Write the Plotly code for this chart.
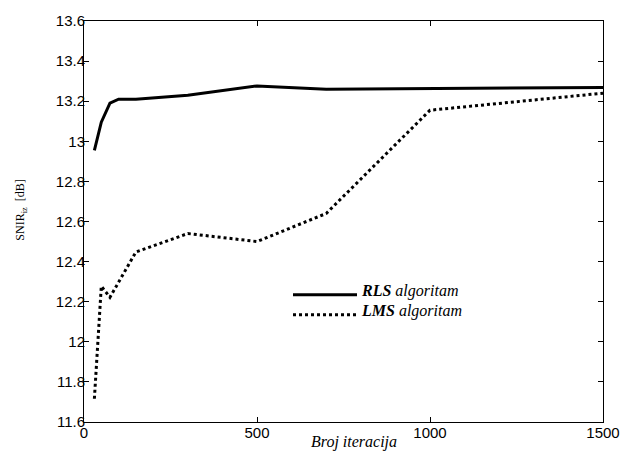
import plotly.graph_objects as go

iters_rls = [30, 50, 75, 100, 150, 300, 500, 700, 1500]
snir_rls = [12.955, 13.095, 13.19, 13.21, 13.21, 13.23, 13.276, 13.26, 13.268]

iters_lms = [30, 50, 75, 150, 300, 500, 700, 1000, 1500]
snir_lms = [11.716, 12.277, 12.222, 12.448, 12.54, 12.5, 12.64, 13.155, 13.24]

x_ticks = [0, 500, 1000, 1500]
y_ticks = [11.6, 11.8, 12.0, 12.2, 12.4, 12.6, 12.8, 13.0, 13.2, 13.4, 13.6]

legend_labels = ["<b><i>RLS</i></b><i> algoritam</i>", "<b><i>LMS</i></b><i> algoritam</i>"]

fig = go.Figure()
fig.add_trace(go.Scatter(x=iters_rls, y=snir_rls, mode="lines",
                         line=dict(color="black", width=3), showlegend=False))
fig.add_trace(go.Scatter(x=iters_lms, y=snir_lms, mode="lines",
                         line=dict(color="black", width=3, dash="dot"), showlegend=False))

W, H = 638, 461
L, R, T, B = 84, 35, 14, 39
pw, ph = W - L - R, H - T - B

def px(xp):
    return (xp - L) / pw

def py(yp):
    return 1 - (yp - T) / ph

# custom legend
leg_y = [292.5, 313]
for yy, dash, lab in zip(leg_y, ["solid", "dot"], legend_labels):
    fig.add_shape(type="line", xref="paper", yref="paper",
                  x0=px(293), x1=px(357), y0=py(yy), y1=py(yy),
                  line=dict(color="black", width=3, dash=dash))
    fig.add_annotation(xref="paper", yref="paper", x=px(359), y=py(yy - 4),
                       text=lab, showarrow=False, xanchor="left", yanchor="middle",
                       font=dict(family="Liberation Serif", size=16, color="black"))

fig.add_annotation(xref="paper", yref="paper", x=px(354), y=py(442),
                   text="<i>Broj iteracija</i>", showarrow=False,
                   xanchor="center", yanchor="middle",
                   font=dict(family="Liberation Serif", size=16, color="black"))
fig.add_annotation(xref="paper", yref="paper", x=px(21), y=py(207),
                   text="SNIR<sub>iz</sub>  [dB]", showarrow=False, textangle=-90,
                   xanchor="center", yanchor="middle",
                   font=dict(family="Liberation Serif", size=12, color="black"))

axis_common = dict(showgrid=False, zeroline=False, showline=True, linecolor="black",
                   linewidth=1, ticks="inside", ticklen=5, tickcolor="black",
                   mirror="allticks",
                   tickfont=dict(family="Liberation Sans", size=15, color="black"))

fig.update_xaxes(range=[0, 1500], tickvals=x_ticks, ticklabelstandoff=-3, **axis_common)
fig.update_yaxes(range=[11.6, 13.6], tickvals=y_ticks, ticklabelstandoff=-5, **axis_common)

fig.update_layout(width=W, height=H, margin=dict(l=L, r=R, t=T, b=B),
                  plot_bgcolor="white", paper_bgcolor="white", showlegend=False)

fig.write_html("out.html")
